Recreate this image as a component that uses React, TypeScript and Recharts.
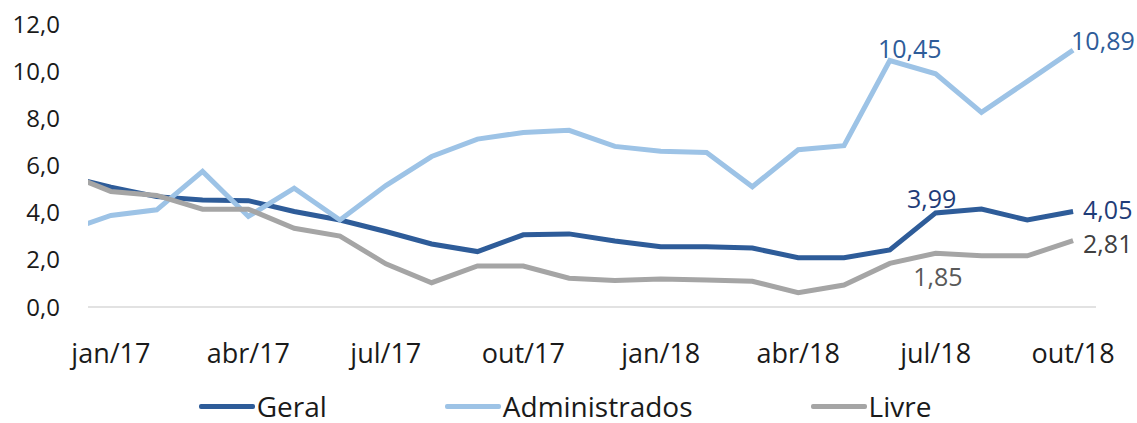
import { LineChart, Line, XAxis, YAxis, Legend } from 'recharts';

// month index 0 is dez/16: it sits half a step left of the plot and gets clipped
const months = [
  'dez/16', 'jan/17', 'fev/17', 'mar/17', 'abr/17', 'mai/17', 'jun/17', 'jul/17',
  'ago/17', 'set/17', 'out/17', 'nov/17', 'dez/17', 'jan/18', 'fev/18', 'mar/18',
  'abr/18', 'mai/18', 'jun/18', 'jul/18', 'ago/18', 'set/18', 'out/18',
];
const geral = [
  5.56, 5.08, 4.68, 4.54, 4.51, 4.05, 3.69, 3.2, 2.67, 2.35, 3.06, 3.1,
  2.8, 2.56, 2.56, 2.5, 2.09, 2.09, 2.42, 3.99, 4.15, 3.69, 4.05,
];
const administrados = [
  3.22, 3.88, 4.12, 5.75, 3.84, 5.04, 3.69, 5.15, 6.38, 7.12, 7.4, 7.49,
  6.81, 6.6, 6.55, 5.1, 6.67, 6.84, 10.45, 9.89, 8.25, 9.57, 10.89,
];
const livre = [
  5.68, 4.9, 4.73, 4.15, 4.15, 3.34, 3.01, 1.83, 1.03, 1.74, 1.74, 1.22,
  1.12, 1.19, 1.15, 1.09, 0.61, 0.93, 1.85, 2.28, 2.17, 2.17, 2.81,
];
const xTicks = [1, 4, 7, 10, 13, 16, 19, 22];
const yTicks = [0, 2, 4, 6, 8, 10, 12];

const data = months.map((m, i) => ({
  i,
  month: m,
  geral: geral[i],
  administrados: administrados[i],
  livre: livre[i],
}));

const FONT = '"Open Sans", "Noto Sans", sans-serif';
const C_GERAL = '#2e5c99';
const C_ADM = '#9dc3e6';
const C_LIVRE = '#a5a5a5';

const fmt = (v: number, d: number) => v.toFixed(d).replace('.', ',');

// which points carry a value label, and where it sits relative to the point
const labelSpots: Record<string, { month: string; dx: number; dy: number; anchor: string; color: string }[]> = {
  geral: [
    { month: 'jul/18', dx: -4, dy: -15, anchor: 'middle', color: '#1f3c78' },
    { month: 'out/18', dx: 10, dy: -2, anchor: 'start', color: '#1f3c78' },
  ],
  administrados: [
    { month: 'jun/18', dx: 20, dy: -13, anchor: 'middle', color: '#2e5c99' },
    { month: 'out/18', dx: -2, dy: -10, anchor: 'start', color: '#2e5c99' },
  ],
  livre: [
    { month: 'jun/18', dx: 48, dy: 13, anchor: 'middle', color: '#595959' },
    { month: 'out/18', dx: 10, dy: 2, anchor: 'start', color: '#404040' },
  ],
};

const makeLabel = (key: string) => (props: any) => {
  const { x, y, index, value } = props;
  const spot = labelSpots[key].find((s) => s.month === months[index]);
  if (!spot || value == null) return <g key={`${key}-${index}`} />;
  return (
    <text
      key={`${key}-${index}`}
      x={x + spot.dx}
      y={y + spot.dy}
      textAnchor={spot.anchor as any}
      dominantBaseline="central"
      fontFamily={FONT}
      fontSize={25}
      fill={spot.color}
    >
      {fmt(value, 2)}
    </text>
  );
};

const legendItems = [
  { name: 'Geral', color: C_GERAL },
  { name: 'Administrados', color: C_ADM },
  { name: 'Livre', color: C_LIVRE },
];

const renderLegend = () => (
  <div
    style={{
      display: 'flex',
      justifyContent: 'center',
      alignItems: 'center',
      height: 54,
      paddingTop: 24,
      paddingLeft: 34,
      boxSizing: 'border-box',
      gap: 118,
      fontFamily: FONT,
      fontSize: 28,
      color: '#1a1a1a',
      lineHeight: '30px',
    }}
  >
    {legendItems.map((it) => (
      <div key={it.name} style={{ display: 'flex', alignItems: 'center' }}>
        <span style={{ display: 'inline-block', width: 56, height: 5, background: it.color, borderRadius: 2, marginRight: 2 }} />
        <span>{it.name}</span>
      </div>
    ))}
  </div>
);

export default function App() {
  return (
    <div style={{ position: 'absolute', left: 0, top: 0, background: '#fff' }}>
      <LineChart width={1137} height={423} data={data} margin={{ top: 24, right: 41, left: 0, bottom: 2 }}>
        <XAxis
          type="number"
          dataKey="i"
          domain={[0.5, 22.5]}
          allowDataOverflow
          ticks={xTicks}
          tickFormatter={(v: number) => months[v]}
          tickLine={false}
          tickSize={0}
          tickMargin={37}
          height={60}
          axisLine={{ stroke: '#d9d9d9', strokeWidth: 1.5 }}
          tick={{ fontFamily: FONT, fontSize: 27, fill: '#1a1a1a' }}
          interval={0}
        />
        <YAxis
          domain={[0, 12]}
          ticks={yTicks}
          tickFormatter={(v: number) => fmt(v, 1)}
          width={88}
          axisLine={false}
          tickLine={false}
          tickSize={0}
          tickMargin={28}
          tick={{ fontFamily: FONT, fontSize: 24, fill: '#1a1a1a' }}
          interval={0}
        />
        <Legend verticalAlign="bottom" content={renderLegend} />
        <Line
          type="linear"
          dataKey="geral"
          name="Geral"
          stroke={C_GERAL}
          strokeWidth={5}
          dot={false}
          activeDot={false}
          isAnimationActive={false}
          label={makeLabel('geral')}
        />
        <Line
          type="linear"
          dataKey="administrados"
          name="Administrados"
          stroke={C_ADM}
          strokeWidth={5}
          dot={false}
          activeDot={false}
          isAnimationActive={false}
          label={makeLabel('administrados')}
        />
        <Line
          type="linear"
          dataKey="livre"
          name="Livre"
          stroke={C_LIVRE}
          strokeWidth={5}
          dot={false}
          activeDot={false}
          isAnimationActive={false}
          label={makeLabel('livre')}
        />
      </LineChart>
    </div>
  );
}
